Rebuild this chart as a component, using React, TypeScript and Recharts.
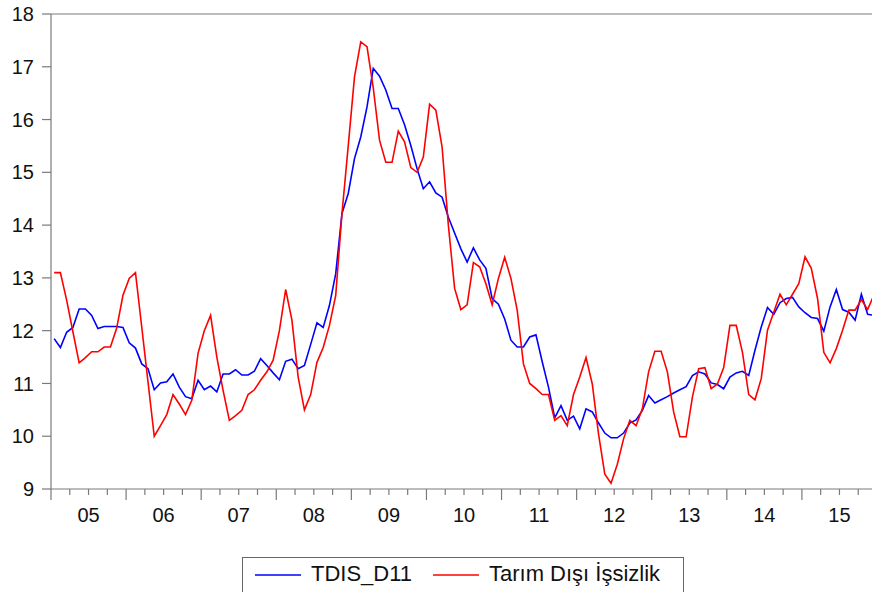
import React from 'react';
import { LineChart, Line, XAxis, YAxis, ReferenceLine, Legend } from 'recharts';

// Monthly data, Jan 2005 – Dec 2015
const tdisD11: number[] = [
  11.85, 11.68, 11.97, 12.06, 12.41, 12.41, 12.29, 12.04, 12.08, 12.08, 12.08, 12.06,
  11.77, 11.67, 11.37, 11.28, 10.88, 11.01, 11.03, 11.18, 10.93, 10.75, 10.71, 11.06,
  10.88, 10.95, 10.84, 11.18, 11.18, 11.26, 11.16, 11.16, 11.23, 11.47, 11.34, 11.2,
  11.07, 11.42, 11.46, 11.28, 11.34, 11.74, 12.15, 12.06, 12.48, 13.08, 14.22, 14.6,
  15.26, 15.67, 16.24, 16.97, 16.82, 16.56, 16.21, 16.21, 15.9, 15.51, 15.07, 14.69,
  14.82, 14.61, 14.53, 14.15, 13.85, 13.55, 13.3, 13.57, 13.34, 13.18, 12.61, 12.5,
  12.22, 11.82, 11.69, 11.69, 11.88, 11.92, 11.41, 10.93, 10.35, 10.58, 10.3, 10.38,
  10.14, 10.52, 10.46, 10.25, 10.06, 9.97, 9.97, 10.06, 10.25, 10.31, 10.49, 10.77,
  10.63, 10.69, 10.75, 10.82, 10.88, 10.94, 11.15, 11.22, 11.18, 11.01, 10.98, 10.9,
  11.12, 11.2, 11.23, 11.15, 11.63, 12.07, 12.44, 12.31, 12.53, 12.61, 12.63, 12.45,
  12.34, 12.25, 12.23, 11.99, 12.45, 12.78, 12.4, 12.35, 12.2, 12.69, 12.31, 12.29,
];

const tarimDisi: number[] = [
  13.1, 13.1, 12.58, 11.98, 11.39, 11.49, 11.6, 11.6, 11.69, 11.69, 12.05, 12.67,
  12.99, 13.1, 12.07, 11.03, 10.0, 10.2, 10.41, 10.79, 10.61, 10.41, 10.68, 11.57,
  12.0, 12.29, 11.5, 10.87, 10.3, 10.39, 10.49, 10.79, 10.88, 11.06, 11.22, 11.44,
  12.0, 12.78, 12.2, 11.12, 10.5, 10.79, 11.4, 11.68, 12.1, 12.67, 14.22, 15.5,
  16.81, 17.47, 17.38, 16.6, 15.61, 15.19, 15.19, 15.78, 15.58, 15.09, 15.0, 15.29,
  16.29, 16.18, 15.48, 14.0, 12.8, 12.4, 12.49, 13.29, 13.21, 12.89, 12.49, 12.99,
  13.39, 12.99, 12.39, 11.37, 11.0, 10.9, 10.79, 10.79, 10.3, 10.39, 10.2, 10.79,
  11.12, 11.49, 10.99, 10.04, 9.28, 9.11, 9.47, 9.95, 10.3, 10.2, 10.52, 11.22,
  11.61, 11.61, 11.22, 10.46, 9.99, 9.99, 10.74, 11.28, 11.3, 10.9, 10.99, 11.3,
  12.1, 12.1, 11.59, 10.79, 10.69, 11.09, 12.01, 12.35, 12.69, 12.49, 12.69, 12.89,
  13.4, 13.18, 12.61, 11.59, 11.39, 11.66, 12.01, 12.39, 12.39, 12.59, 12.4, 12.67,
];

const yearLabels: string[] = ['05', '06', '07', '08', '09', '10', '11', '12', '13', '14', '15'];
const yTicks: number[] = [9, 10, 11, 12, 13, 14, 15, 16, 17, 18];
const seriesNames: string[] = ['TDIS_D11', 'Tarım Dışı İşsizlik'];

const data = tdisD11.map((v, i) => ({ t: i + 0.5, tdis: v, tarim: tarimDisi[i] }));
const xTicks: number[] = Array.from({ length: yearLabels.length * 4 + 1 }, (_, k) => k * 3);

const FONT = '"Liberation Sans", Arial, sans-serif';
const AXIS = '#7a7a7a';

const XTick = (props: any) => {
  const { x, y, payload } = props;
  const v = payload.value as number;
  const major = v % 12 === 0;
  const isLabel = v % 12 === 6;
  return (
    <g>
      <line x1={x} x2={x} y1={y} y2={y + (major ? 11 : 6)} stroke={AXIS} strokeWidth={1.2} />
      {isLabel && (
        <text x={x} y={y + 33} textAnchor="middle" fontSize={20} fill="#111" fontFamily={FONT}>
          {yearLabels[(v - 6) / 12]}
        </text>
      )}
    </g>
  );
};

const LegendContent = (props: any) => {
  const payload = props.payload || [];
  const pos = [
    { lx: 13, tx: 69 },
    { lx: 191, tx: 247 },
  ];
  return (
    <svg width={442} height={40} style={{ display: 'block' }}>
      <rect x={0.5} y={0.5} width={441} height={45} fill="#fff" stroke="#666" strokeWidth={1} />
      {payload.map((p: any, i: number) => (
        <g key={i}>
          <line x1={pos[i].lx} x2={pos[i].lx + 46} y1={18} y2={18} stroke={p.color} strokeWidth={1.6} />
          <text x={pos[i].tx} y={24} fontSize={22} fill="#111" fontFamily={FONT}>
            {p.value}
          </text>
        </g>
      ))}
    </svg>
  );
};

export default function App() {
  return (
    <div style={{ position: 'absolute', left: 0, top: 0, width: 872, height: 592, overflow: 'hidden', background: '#fff' }}>
      <LineChart width={880} height={592} data={data} margin={{ top: 14, right: 3, left: 0, bottom: 0 }}>
        <XAxis
          dataKey="t"
          type="number"
          domain={[0, 132]}
          ticks={xTicks}
          interval={0}
          tickSize={0}
          tickMargin={0}
          tickLine={false}
          axisLine={{ stroke: AXIS, strokeWidth: 1.2 }}
          tick={<XTick />}
          height={103}
        />
        <YAxis
          type="number"
          domain={[9, 18]}
          ticks={yTicks}
          interval={0}
          width={51}
          tickSize={9}
          tickMargin={8}
          tickLine={{ stroke: AXIS, strokeWidth: 1.2 }}
          axisLine={{ stroke: AXIS, strokeWidth: 1.2 }}
          tick={{ fontSize: 20, fill: '#111', fontFamily: FONT }}
        />
        <ReferenceLine y={18} stroke={AXIS} strokeWidth={1.2} />
        <Line
          type="linear"
          dataKey="tdis"
          name={seriesNames[0]}
          stroke="#0000ff"
          strokeWidth={1.6}
          dot={false}
          isAnimationActive={false}
        />
        <Line
          type="linear"
          dataKey="tarim"
          name={seriesNames[1]}
          stroke="#ff0000"
          strokeWidth={1.6}
          dot={false}
          isAnimationActive={false}
        />
        <Legend
          layout="horizontal"
          verticalAlign="middle"
          align="center"
          wrapperStyle={{ top: 557, left: 242, width: 442, height: 40 }}
          content={<LegendContent />}
        />
      </LineChart>
    </div>
  );
}
